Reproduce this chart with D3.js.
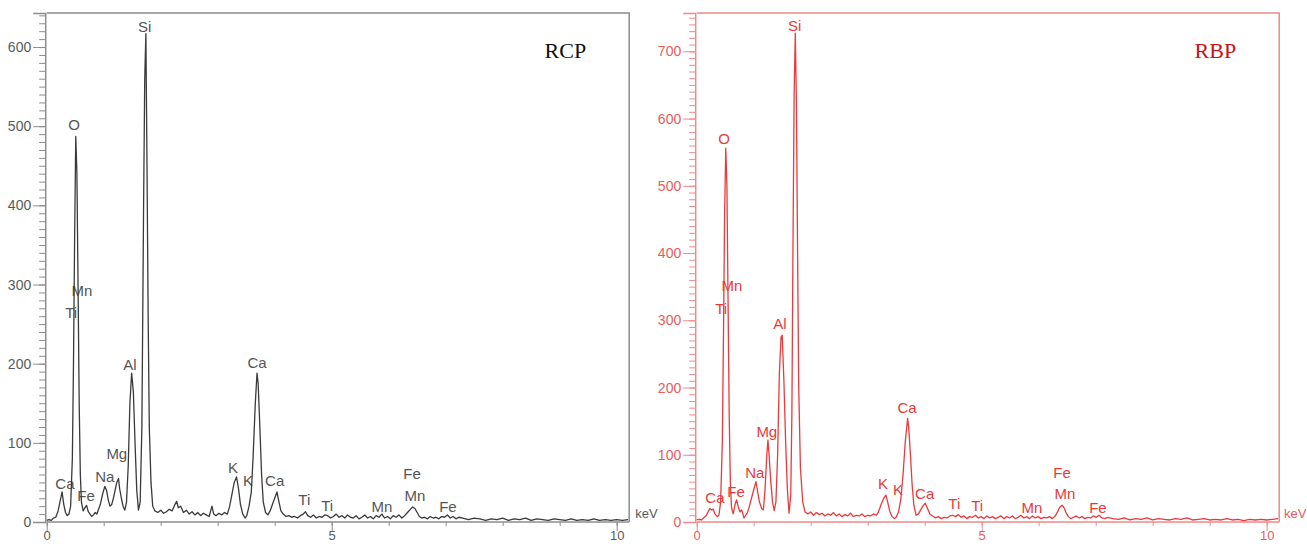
<!DOCTYPE html>
<html>
<head>
<meta charset="utf-8">
<script src="https://cdn.jsdelivr.net/npm/d3@7"></script>
<style>
 body { margin: 0; background: #fff; }
 svg { display: block; }
 text { font-family: "Liberation Sans", Arial, sans-serif; }
</style>
</head>
<body>
<script>
/*global d3 */

// *** RCP spectrum, [keV, counts]
var rcpSpectrum = [
 [0.00, 2], [0.04, 3], [0.08, 2], [0.12, 5], [0.16, 6], [0.20, 14], [0.24, 28], [0.27, 38], [0.30, 22], [0.33, 12],
 [0.36, 8], [0.39, 10], [0.42, 20], [0.45, 80], [0.47, 200], [0.49, 360], [0.51, 487], [0.53, 440], [0.55, 300], [0.57, 150],
 [0.59, 60], [0.61, 25], [0.64, 14], [0.67, 18], [0.70, 21], [0.73, 13], [0.76, 10], [0.79, 7], [0.82, 9], [0.85, 12],
 [0.88, 10], [0.91, 16], [0.94, 22], [0.98, 35], [1.02, 45], [1.05, 40], [1.08, 28], [1.11, 20], [1.14, 22], [1.17, 30],
 [1.20, 40], [1.23, 50], [1.26, 55], [1.28, 42], [1.31, 30], [1.34, 20], [1.37, 15], [1.40, 25], [1.43, 70], [1.46, 150],
 [1.49, 188], [1.52, 165], [1.55, 100], [1.58, 40], [1.61, 15], [1.64, 25], [1.67, 120], [1.70, 400], [1.72, 560], [1.74, 617],
 [1.76, 450], [1.78, 260], [1.80, 120], [1.83, 50], [1.86, 20], [1.90, 14], [1.95, 12], [2.00, 15], [2.05, 11], [2.10, 13],
 [2.15, 16], [2.20, 14], [2.25, 22], [2.28, 26], [2.31, 18], [2.35, 20], [2.40, 12], [2.45, 15], [2.50, 10], [2.55, 13],
 [2.60, 9], [2.65, 12], [2.70, 8], [2.75, 11], [2.80, 9], [2.85, 7], [2.90, 20], [2.93, 10], [2.97, 8], [3.02, 11],
 [3.07, 9], [3.12, 12], [3.17, 10], [3.21, 20], [3.25, 35], [3.29, 50], [3.33, 57], [3.36, 45], [3.40, 22], [3.44, 10],
 [3.48, 5], [3.51, 8], [3.55, 20], [3.59, 38], [3.62, 80], [3.66, 150], [3.69, 188], [3.71, 175], [3.74, 120], [3.77, 60],
 [3.80, 25], [3.84, 12], [3.88, 9], [3.92, 14], [3.96, 22], [4.00, 30], [4.04, 38], [4.07, 27], [4.11, 14], [4.15, 10],
 [4.20, 7], [4.25, 8], [4.30, 6], [4.35, 7], [4.40, 5], [4.45, 8], [4.50, 10], [4.54, 13], [4.58, 8], [4.63, 6],
 [4.68, 9], [4.73, 5], [4.78, 7], [4.83, 6], [4.88, 9], [4.93, 8], [4.98, 5], [5.03, 7], [5.08, 10], [5.13, 6],
 [5.18, 8], [5.23, 5], [5.28, 9], [5.33, 6], [5.38, 5], [5.43, 8], [5.48, 4], [5.53, 6], [5.58, 9], [5.63, 5],
 [5.68, 7], [5.73, 4], [5.78, 8], [5.83, 6], [5.88, 10], [5.93, 5], [5.98, 7], [6.03, 4], [6.08, 8], [6.13, 6],
 [6.18, 9], [6.23, 5], [6.28, 8], [6.33, 12], [6.38, 16], [6.42, 19], [6.46, 17], [6.50, 12], [6.54, 7], [6.58, 5],
 [6.63, 6], [6.68, 4], [6.73, 7], [6.78, 5], [6.83, 6], [6.88, 4], [6.93, 7], [6.98, 6], [7.03, 9], [7.08, 5],
 [7.13, 7], [7.18, 4], [7.23, 6], [7.30, 5], [7.40, 3], [7.50, 5], [7.60, 4], [7.70, 2], [7.80, 4], [7.90, 3],
 [8.00, 5], [8.10, 2], [8.20, 4], [8.30, 3], [8.40, 5], [8.50, 2], [8.60, 4], [8.70, 3], [8.80, 2], [8.90, 4],
 [9.00, 3], [9.10, 2], [9.20, 4], [9.30, 2], [9.40, 3], [9.50, 2], [9.60, 4], [9.70, 2], [9.80, 3], [9.90, 2],
 [10.00, 3], [10.10, 2], [10.20, 3]
];

// *** RBP spectrum, [keV, counts]
var rbpSpectrum = [
 [0.00, 3], [0.04, 4], [0.08, 3], [0.12, 6], [0.16, 9], [0.20, 15], [0.23, 20], [0.26, 18], [0.29, 19], [0.32, 12],
 [0.36, 8], [0.39, 10], [0.42, 30], [0.45, 120], [0.47, 280], [0.49, 460], [0.51, 556], [0.53, 500], [0.55, 330], [0.57, 160],
 [0.59, 60], [0.61, 22], [0.64, 12], [0.67, 25], [0.70, 33], [0.73, 22], [0.76, 15], [0.79, 18], [0.83, 6], [0.86, 10],
 [0.89, 14], [0.92, 22], [0.96, 35], [1.00, 48], [1.04, 60], [1.07, 45], [1.10, 30], [1.14, 20], [1.17, 18], [1.20, 50],
 [1.23, 100], [1.25, 122], [1.27, 100], [1.30, 60], [1.33, 30], [1.36, 17], [1.39, 30], [1.42, 100], [1.45, 220], [1.48, 275],
 [1.50, 278], [1.53, 210], [1.56, 120], [1.59, 50], [1.62, 13], [1.65, 40], [1.67, 160], [1.69, 420], [1.71, 640], [1.73, 727],
 [1.75, 620], [1.77, 400], [1.79, 200], [1.82, 80], [1.86, 30], [1.90, 15], [1.95, 12], [2.00, 15], [2.05, 10], [2.10, 14],
 [2.15, 11], [2.20, 13], [2.25, 9], [2.30, 12], [2.35, 10], [2.40, 14], [2.45, 9], [2.50, 12], [2.55, 8], [2.60, 11],
 [2.65, 9], [2.70, 13], [2.75, 8], [2.80, 10], [2.85, 9], [2.90, 12], [2.95, 8], [3.00, 10], [3.05, 9], [3.10, 12],
 [3.15, 10], [3.19, 15], [3.23, 25], [3.28, 35], [3.32, 40], [3.35, 30], [3.39, 15], [3.43, 8], [3.47, 5], [3.50, 7],
 [3.54, 15], [3.58, 33], [3.62, 70], [3.66, 120], [3.70, 154], [3.72, 140], [3.75, 100], [3.78, 55], [3.81, 25], [3.85, 10],
 [3.89, 12], [3.93, 18], [3.97, 24], [4.01, 28], [4.05, 20], [4.09, 12], [4.14, 9], [4.19, 6], [4.24, 8], [4.29, 5],
 [4.34, 7], [4.39, 6], [4.44, 9], [4.49, 10], [4.54, 8], [4.59, 11], [4.64, 7], [4.69, 9], [4.74, 5], [4.79, 8],
 [4.84, 7], [4.89, 10], [4.94, 6], [4.99, 8], [5.04, 5], [5.09, 9], [5.14, 6], [5.19, 8], [5.24, 5], [5.29, 7],
 [5.34, 9], [5.39, 5], [5.44, 8], [5.49, 6], [5.54, 9], [5.59, 5], [5.64, 7], [5.69, 10], [5.74, 6], [5.79, 8],
 [5.84, 5], [5.89, 9], [5.94, 6], [5.99, 8], [6.04, 5], [6.09, 7], [6.14, 6], [6.19, 8], [6.24, 5], [6.29, 9],
 [6.33, 15], [6.37, 22], [6.41, 25], [6.44, 22], [6.48, 14], [6.52, 8], [6.56, 5], [6.61, 7], [6.66, 9], [6.71, 6],
 [6.76, 8], [6.81, 5], [6.86, 7], [6.91, 6], [6.96, 9], [7.01, 7], [7.06, 10], [7.11, 6], [7.16, 5], [7.21, 7],
 [7.30, 5], [7.40, 4], [7.50, 6], [7.60, 3], [7.70, 5], [7.80, 4], [7.90, 6], [8.00, 3], [8.10, 5], [8.20, 4],
 [8.30, 3], [8.40, 5], [8.50, 4], [8.60, 6], [8.70, 3], [8.80, 4], [8.90, 5], [9.00, 3], [9.10, 4], [9.20, 3],
 [9.30, 5], [9.40, 3], [9.50, 4], [9.60, 2], [9.70, 4], [9.80, 3], [9.90, 4], [10.00, 3], [10.10, 4], [10.20, 5]
];

// *** element labels: name, keV of the label, label height (counts) in each panel
var peakNames = ['Si', 'O', 'Mn', 'Ti', 'Al', 'Ca', 'Mg', 'Na', 'Ca', 'Fe', 'K', 'K', 'Ca', 'Ti', 'Ti', 'Mn', 'Fe', 'Mn', 'Fe'];
var peakKev = [1.72, 0.48, 0.62, 0.43, 1.46, 3.69, 1.23, 1.02, 0.32, 0.69, 3.27, 3.53, 4.00, 4.52, 4.92, 5.88, 6.41, 6.46, 7.04];
var rcpPeakCounts = [626, 502, 292, 265, 199, 201, 87, 57, 49, 33, 69, 53, 52, 28, 21, 19, 61, 33, 19];
var rbpPeakCounts = [738, 571, 351, 318, 295, 171, 134, 74, 37, 46, 58, 48, 43, 27, 24, 21, 74, 43, 22];

// *** axis ticks
var xTickValues = [0, 5, 10];
var rcpYTicks = [0, 100, 200, 300, 400, 500, 600];
var rbpYTicks = [0, 100, 200, 300, 400, 500, 600, 700];

var width = 1307
var height = 544

var svg = d3.select('body')
 .append('svg')
 .attr('width', width)
 .attr('height', height);

function drawPanel(p) {
 var g = svg.append('g');

 var xScale = d3.scaleLinear()
  .domain([0, 10.22])
  .range([p.left, p.left + 582.5]);

 var yScale = d3.scaleLinear()
  .domain([0, p.yMax])
  .range([522, 13]);

 // *** frame (top and right edges)
 g.append('path')
  .attr('d', 'M' + xScale(0) + ',' + yScale(p.yMax) + 'H' + xScale(10.22) + 'V' + yScale(0))
  .attr('fill', 'none')
  .attr('stroke', p.frame)
  .attr('stroke-width', 1.5);

 // *** y axis minor ticks (every 10 counts)
 var yMinor = d3.axisLeft(yScale)
  .tickValues(d3.range(0, p.yMax, 10))
  .tickSize(6)
  .tickFormat('');
 var gyMinor = g.append('g')
  .attr('transform', 'translate(' + (xScale(0) - 1.5) + ',0)')
  .call(yMinor);
 gyMinor.selectAll('line').attr('stroke', p.frame);
 gyMinor.select('.domain').remove();

 // *** y axis major ticks with labels
 var yAxis = d3.axisLeft(yScale)
  .tickValues(p.yTicks)
  .tickSize(12)
  .tickPadding(2)
  .tickFormat(d3.format('d'));
 var gy = g.append('g')
  .attr('transform', 'translate(' + (xScale(0) - 1.5) + ',0)')
  .call(yAxis);
 gy.select('.domain').attr('stroke', p.frame).attr('stroke-width', 1.5);
 gy.selectAll('line').attr('stroke', p.frame);
 gy.selectAll('text')
  .attr('fill', p.tickText)
  .style('font-size', '14px')
  .style('font-family', '"Liberation Sans", Arial, sans-serif');

 // *** x axis minor ticks (every keV)
 var xMinor = d3.axisBottom(xScale)
  .tickValues(d3.range(0, 11, 1))
  .tickSize(4)
  .tickFormat('');
 var gxMinor = g.append('g')
  .attr('transform', 'translate(0,' + yScale(0) + ')')
  .call(xMinor);
 gxMinor.selectAll('line').attr('stroke', p.frame);
 gxMinor.select('.domain').remove();

 // *** x axis major ticks
 var xAxis = d3.axisBottom(xScale)
  .tickValues(xTickValues)
  .tickSize(9)
  .tickPadding(0)
  .tickFormat(d3.format('d'));
 var gx = g.append('g')
  .attr('transform', 'translate(0,' + yScale(0) + ')')
  .call(xAxis);
 gx.select('.domain')
  .attr('d', 'M' + xScale(0) + ',0H' + xScale(10.22))
  .attr('stroke', p.frame)
  .attr('stroke-width', 1.5);
 gx.selectAll('line').attr('stroke', p.frame);
 gx.selectAll('text')
  .attr('fill', p.tickText)
  .style('font-size', '13px')
  .style('font-family', '"Liberation Sans", Arial, sans-serif');

 // keV unit label (kept inside the page on the right panel)
 g.append('text')
  .attr('x', Math.min(xScale(10.22) + 6, width - 23))
  .attr('y', yScale(0) - 4)
  .attr('fill', p.tickText)
  .style('font-size', '13px')
  .text('keV');

 // *** element labels
 g.selectAll('.peak')
  .data(peakNames)
  .enter()
  .append('text')
  .attr('class', 'peak')
  .attr('x', function(d, i) { return xScale(peakKev[i]) })
  .attr('y', function(d, i) { return yScale(p.peakCounts[i]) })
  .attr('text-anchor', 'middle')
  .attr('dominant-baseline', 'central')
  .attr('fill', p.labelColor)
  .style('font-size', '15px')
  .text(function(d) { return d });

 // *** spectrum line
 var line = d3.line()
  .x(function(d) { return xScale(d[0]) })
  .y(function(d) { return yScale(d[1]) });

 g.append('path')
  .datum(p.spectrum)
  .attr('d', line)
  .attr('fill', 'none')
  .attr('stroke', p.lineColor)
  .attr('stroke-width', 1.3)
  .attr('stroke-linejoin', 'round');

 // sample name
 g.append('text')
  .attr('x', xScale(9.1))
  .attr('y', 58)
  .attr('text-anchor', 'middle')
  .attr('fill', p.nameColor)
  .style('font-family', '"Liberation Serif", "Times New Roman", serif')
  .style('font-size', '22px')
  .text(p.name);
}

drawPanel({
 name: 'RCP',
 left: 46.7,
 yMax: 643,
 yTicks: rcpYTicks,
 spectrum: rcpSpectrum,
 peakCounts: rcpPeakCounts,
 frame: '#8c8c8c',
 tickText: '#5a5a5a',
 labelColor: '#555',
 lineColor: '#3a3a3a',
 nameColor: '#111'
});

drawPanel({
 name: 'RBP',
 left: 696.7,
 yMax: 757,
 yTicks: rbpYTicks,
 spectrum: rbpSpectrum,
 peakCounts: rbpPeakCounts,
 frame: '#ee8a8a',
 tickText: '#e85c5c',
 labelColor: '#e83a3a',
 lineColor: '#ea3a3e',
 nameColor: '#cc1111'
});
</script>
</body>
</html>
